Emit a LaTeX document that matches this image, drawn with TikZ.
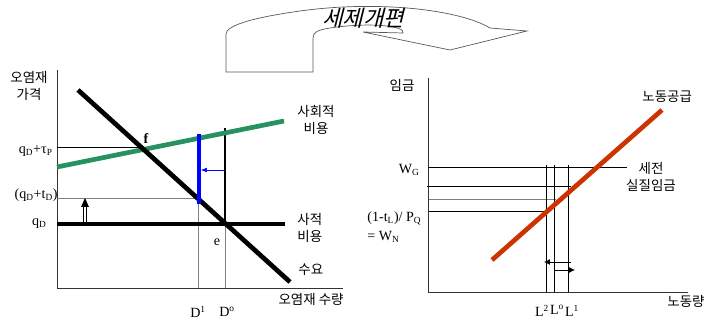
\documentclass[tikz,border=0pt]{standalone}
\usepackage{fontspec}
\setmainfont{Liberation Serif}
\newfontfamily\kr{Noto Sans CJK KR}
\newfontfamily\krslant[FakeSlant=0.25]{Noto Sans CJK KR}
\usetikzlibrary{arrows.meta,positioning}
\definecolor{socgreen}{RGB}{38,146,96}
\definecolor{supred}{RGB}{204,51,0}

\begin{document}
\begin{tikzpicture}[
    x=0.03cm, y=-0.03cm,
    axis/.style={line width=0.8pt, black!80},
    guide/.style={line width=0.6pt},
    guidegray/.style={line width=0.6pt, gray},
    curve/.style={line width=4pt},
    lbl/.style={font=\fontsize{12}{13}\selectfont, inner sep=1pt},
    krlbl/.style={font=\fontsize{11.5}{15}\kr, align=center, inner sep=1pt},
    arr/.style={-{Latex[length=5pt,width=5pt]}, line width=0.7pt},
  ]
  \useasboundingbox (0,0) rectangle (709,321);

  % Reform arrow
  \draw[line width=0.6pt, gray!70!black]
    (226,72) -- (226,34) .. controls (226,26) and (250,18) .. (300,11)
    .. controls (380,0) and (460,10) .. (490,28) -- (527,31) -- (450,50)
    -- (363,32) -- (403,33) .. controls (406,26) and (370,22) .. (330,28)
    .. controls (318,30) and (313,32) .. (313,38) -- (313,72) -- cycle;
  \node[font=\fontsize{19}{20}\krslant, inner sep=0pt] (reform) at (363,18) {세제개편};

  % Left chart: axes
  \coordinate (lo)  at (57,288);
  \coordinate (ly)  at (57,70);
  \coordinate (lx)  at (343,288);
  \draw[axis] (ly) -- (lo) -- (lx);
  \node[krlbl] (lylab) at (29,86) {오염재\\가격};
  \node[krlbl, anchor=north east] (lxlab) at (345,292) {오염재 수량};

  % Guide lines
  \coordinate (f)    at (144,147);
  \coordinate (e)    at (225,224);
  \coordinate (tdl)  at (57,198);
  \coordinate (tdr)  at (198,198);
  \draw[guide]     (57,147) -- (f);
  \draw[guidegray] (tdl) -- (tdr);
  \draw[guidegray] (198,158) -- (198,288);
  \draw[guidegray] (e) -- (225,288);
  \draw[line width=1.8pt] (225,128) -- (e);

  % Curves
  \coordinate (dA) at (78,90);
  \coordinate (dB) at (290,282);
  \coordinate (sA) at (57,167);
  \coordinate (sB) at (284,121);
  \coordinate (pA) at (57,224);
  \coordinate (pB) at (285,224);
  \draw[curve, socgreen] (sA) -- (sB);
  \draw[curve] (pA) -- (pB);
  \draw[curve] (dA) -- (dB);

  % Tax wedge
  \draw[line width=2.6pt, blue] (199,134) -- (199,204);
  \draw[-{Latex[length=5pt,width=4pt]}, line width=0.5pt, blue] (225,170) -- (201,170);
  \draw[line width=0.5pt] (83.6,222) -- (83.6,205) (86.4,222) -- (86.4,205);
  \fill (85,198) -- (81,207) -- (89,207) -- cycle;

  % Left labels
  \node[lbl, anchor=east] (qtp) at (54,151) {q\textsubscript{D}+τ\textsubscript{P}};
  \node[lbl, anchor=east] (qtd) at (59,195) {(q\textsubscript{D}+t\textsubscript{D})};
  \node[lbl, anchor=east] (qd)  at (48,224) {q\textsubscript{D}};
  \node[lbl, font=\fontsize{12}{13}\bfseries] (flab) at (146,139) {f};
  \node[lbl] (elab) at (217,242) {e};
  \node[krlbl, anchor=west] (soc)  at (296,120) {사회적\\비용};
  \node[krlbl, anchor=west] (priv) at (296,228) {사적\\비용};
  \node[krlbl, anchor=west] (dem)  at (297,270) {수요};
  \node[lbl] (d1) at (198,312) {D\textsuperscript{1}};
  \node[lbl] (d0) at (227,312) {D\textsuperscript{o}};

  % Right chart: axes
  \coordinate (ro) at (428,292);
  \coordinate (ry) at (428,78);
  \coordinate (rx) at (688,292);
  \draw[axis] (ry) -- (ro) -- (rx);
  \node[krlbl] (rylab) at (402,85) {임금};
  \node[krlbl, anchor=north east] (rxlab) at (706,294) {노동량};

  % Wage lines
  \draw[guide] (428,167) -- (627,167);
  \draw[guide] (427,186) -- (571,186);
  \draw[guidegray] (429,199) -- (556,199);
  \draw[guide] (429,211) -- (546,211);
  \foreach \lx in {546,554,568}
    \draw[guide] (\lx,165) -- (\lx,292);

  % Labour supply
  \coordinate (lsA) at (492,260);
  \coordinate (lsB) at (662,110);
  \draw[curve, supred] (lsA) -- (lsB);

  % Shift arrows
  \draw[arr] (571,262) -- (544,262);
  \draw[arr] (554,270) -- (575,270);

  % Right labels
  \node[krlbl, anchor=west] (sup)  at (641,97) {노동공급};
  \node[krlbl] (pre) at (651,177) {세전\\실질임금};
  \node[lbl, anchor=east] (wg) at (421,170) {W\textsubscript{G}};
  \node[lbl, anchor=west] (wn1) at (366,218) {(1-t\textsubscript{L})/ P\textsubscript{Q}};
  \node[lbl, anchor=west] (wn2) at (366,237) {= W\textsubscript{N}};
  \node[lbl, anchor=north] (l2) at (542,304) {L\textsuperscript{2}};
  \node[lbl, anchor=north] (l0) at (557,304) {L\textsuperscript{o}};
  \node[lbl, anchor=north] (l1) at (572,304) {L\textsuperscript{1}};
\end{tikzpicture}
\end{document}
